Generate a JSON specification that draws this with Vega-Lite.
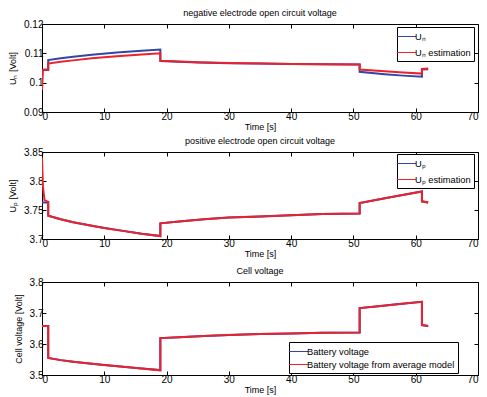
{
  "$schema": "https://vega.github.io/schema/vega-lite/v6.json",
  "padding": {"top": 8, "left": 8, "right": 4, "bottom": 0},
  "background": "white",
  "spacing": 7,
  "config": {
    "font": "Liberation Sans",
    "view": {"stroke": "black", "strokeWidth": 1},
    "axis": {"grid": false, "domain": false, "tickColor": "black", "tickSize": -4, "labelPadding": 3, "labelFontSize": 10, "labelColor": "black", "titleFontSize": 9, "titleFontWeight": "normal", "titleColor": "black", "labelFont": "Liberation Sans", "titleFont": "Liberation Sans"},
    "title": {"fontSize": 9, "fontWeight": "normal", "color": "black", "offset": 1, "font": "Liberation Sans"},
    "legend": {"orient": "none", "strokeColor": "black", "fillColor": "white", "padding": 3, "symbolType": "M-1.6,0H1.6", "symbolSize": 144, "symbolStrokeWidth": 1, "labelFontSize": 9.3, "labelColor": "black", "labelOffset": 2, "title": null, "cornerRadius": 0, "labelFont": "Liberation Sans"}
  },
  "datasets": {
    "n": [
      {"s": "Uₙ", "i": 0, "t": 0, "v": 0.1043},
      {"s": "Uₙ", "i": 1, "t": 1, "v": 0.1043},
      {"s": "Uₙ", "i": 2, "t": 1, "v": 0.1077},
      {"s": "Uₙ", "i": 3, "t": 3, "v": 0.1083},
      {"s": "Uₙ", "i": 4, "t": 5, "v": 0.1088},
      {"s": "Uₙ", "i": 5, "t": 8, "v": 0.1095},
      {"s": "Uₙ", "i": 6, "t": 12, "v": 0.1103},
      {"s": "Uₙ", "i": 7, "t": 16, "v": 0.1109},
      {"s": "Uₙ", "i": 8, "t": 19, "v": 0.1113},
      {"s": "Uₙ", "i": 9, "t": 19, "v": 0.1074},
      {"s": "Uₙ", "i": 10, "t": 25, "v": 0.1069},
      {"s": "Uₙ", "i": 11, "t": 30, "v": 0.1066},
      {"s": "Uₙ", "i": 12, "t": 35, "v": 0.1065},
      {"s": "Uₙ", "i": 13, "t": 40, "v": 0.1064},
      {"s": "Uₙ", "i": 14, "t": 45, "v": 0.1063},
      {"s": "Uₙ", "i": 15, "t": 51, "v": 0.1062},
      {"s": "Uₙ", "i": 16, "t": 51, "v": 0.1037},
      {"s": "Uₙ", "i": 17, "t": 55, "v": 0.1029},
      {"s": "Uₙ", "i": 18, "t": 58, "v": 0.1024},
      {"s": "Uₙ", "i": 19, "t": 61, "v": 0.1020},
      {"s": "Uₙ", "i": 20, "t": 61, "v": 0.1045},
      {"s": "Uₙ", "i": 21, "t": 62, "v": 0.1046},
      {"s": "Uₙ estimation", "i": 0, "t": 0, "v": 0.0975},
      {"s": "Uₙ estimation", "i": 1, "t": 0.15, "v": 0.1040},
      {"s": "Uₙ estimation", "i": 2, "t": 0.35, "v": 0.1045},
      {"s": "Uₙ estimation", "i": 3, "t": 1, "v": 0.1045},
      {"s": "Uₙ estimation", "i": 4, "t": 1, "v": 0.1065},
      {"s": "Uₙ estimation", "i": 5, "t": 3, "v": 0.1071},
      {"s": "Uₙ estimation", "i": 6, "t": 5, "v": 0.1076},
      {"s": "Uₙ estimation", "i": 7, "t": 8, "v": 0.1083},
      {"s": "Uₙ estimation", "i": 8, "t": 12, "v": 0.1090},
      {"s": "Uₙ estimation", "i": 9, "t": 16, "v": 0.1096},
      {"s": "Uₙ estimation", "i": 10, "t": 19, "v": 0.1100},
      {"s": "Uₙ estimation", "i": 11, "t": 19, "v": 0.1075},
      {"s": "Uₙ estimation", "i": 12, "t": 25, "v": 0.1070},
      {"s": "Uₙ estimation", "i": 13, "t": 30, "v": 0.1067},
      {"s": "Uₙ estimation", "i": 14, "t": 35, "v": 0.1065},
      {"s": "Uₙ estimation", "i": 15, "t": 40, "v": 0.1064},
      {"s": "Uₙ estimation", "i": 16, "t": 45, "v": 0.1063},
      {"s": "Uₙ estimation", "i": 17, "t": 51, "v": 0.1062},
      {"s": "Uₙ estimation", "i": 18, "t": 51, "v": 0.1045},
      {"s": "Uₙ estimation", "i": 19, "t": 55, "v": 0.1039},
      {"s": "Uₙ estimation", "i": 20, "t": 58, "v": 0.1035},
      {"s": "Uₙ estimation", "i": 21, "t": 61, "v": 0.1031},
      {"s": "Uₙ estimation", "i": 22, "t": 61, "v": 0.1047},
      {"s": "Uₙ estimation", "i": 23, "t": 62, "v": 0.1048}
    ],
    "p": [
      {"s": "Uₚ", "i": 0, "t": 0, "v": 3.763},
      {"s": "Uₚ", "i": 1, "t": 1, "v": 3.763},
      {"s": "Uₚ", "i": 2, "t": 1, "v": 3.740},
      {"s": "Uₚ", "i": 3, "t": 3, "v": 3.734},
      {"s": "Uₚ", "i": 4, "t": 5, "v": 3.729},
      {"s": "Uₚ", "i": 5, "t": 8, "v": 3.723},
      {"s": "Uₚ", "i": 6, "t": 10, "v": 3.719},
      {"s": "Uₚ", "i": 7, "t": 13, "v": 3.714},
      {"s": "Uₚ", "i": 8, "t": 16, "v": 3.709},
      {"s": "Uₚ", "i": 9, "t": 19, "v": 3.705},
      {"s": "Uₚ", "i": 10, "t": 19, "v": 3.727},
      {"s": "Uₚ", "i": 11, "t": 22, "v": 3.730},
      {"s": "Uₚ", "i": 12, "t": 26, "v": 3.734},
      {"s": "Uₚ", "i": 13, "t": 30, "v": 3.737},
      {"s": "Uₚ", "i": 14, "t": 35, "v": 3.739},
      {"s": "Uₚ", "i": 15, "t": 40, "v": 3.741},
      {"s": "Uₚ", "i": 16, "t": 45, "v": 3.743},
      {"s": "Uₚ", "i": 17, "t": 51, "v": 3.744},
      {"s": "Uₚ", "i": 18, "t": 51, "v": 3.762},
      {"s": "Uₚ", "i": 19, "t": 54, "v": 3.768},
      {"s": "Uₚ", "i": 20, "t": 57, "v": 3.774},
      {"s": "Uₚ", "i": 21, "t": 61, "v": 3.782},
      {"s": "Uₚ", "i": 22, "t": 61, "v": 3.765},
      {"s": "Uₚ", "i": 23, "t": 62, "v": 3.763},
      {"s": "Uₚ estimation", "i": 0, "t": 0, "v": 3.840},
      {"s": "Uₚ estimation", "i": 1, "t": 0.15, "v": 3.790},
      {"s": "Uₚ estimation", "i": 2, "t": 0.4, "v": 3.767},
      {"s": "Uₚ estimation", "i": 3, "t": 1, "v": 3.764},
      {"s": "Uₚ estimation", "i": 4, "t": 1, "v": 3.740},
      {"s": "Uₚ estimation", "i": 5, "t": 3, "v": 3.734},
      {"s": "Uₚ estimation", "i": 6, "t": 5, "v": 3.729},
      {"s": "Uₚ estimation", "i": 7, "t": 8, "v": 3.723},
      {"s": "Uₚ estimation", "i": 8, "t": 10, "v": 3.719},
      {"s": "Uₚ estimation", "i": 9, "t": 13, "v": 3.714},
      {"s": "Uₚ estimation", "i": 10, "t": 16, "v": 3.709},
      {"s": "Uₚ estimation", "i": 11, "t": 19, "v": 3.705},
      {"s": "Uₚ estimation", "i": 12, "t": 19, "v": 3.727},
      {"s": "Uₚ estimation", "i": 13, "t": 22, "v": 3.730},
      {"s": "Uₚ estimation", "i": 14, "t": 26, "v": 3.734},
      {"s": "Uₚ estimation", "i": 15, "t": 30, "v": 3.737},
      {"s": "Uₚ estimation", "i": 16, "t": 35, "v": 3.739},
      {"s": "Uₚ estimation", "i": 17, "t": 40, "v": 3.741},
      {"s": "Uₚ estimation", "i": 18, "t": 45, "v": 3.743},
      {"s": "Uₚ estimation", "i": 19, "t": 51, "v": 3.744},
      {"s": "Uₚ estimation", "i": 20, "t": 51, "v": 3.762},
      {"s": "Uₚ estimation", "i": 21, "t": 54, "v": 3.768},
      {"s": "Uₚ estimation", "i": 22, "t": 57, "v": 3.774},
      {"s": "Uₚ estimation", "i": 23, "t": 61, "v": 3.782},
      {"s": "Uₚ estimation", "i": 24, "t": 61, "v": 3.765},
      {"s": "Uₚ estimation", "i": 25, "t": 62, "v": 3.763}
    ],
    "c": [
      {"s": "Battery voltage", "i": 0, "t": 0, "v": 3.658},
      {"s": "Battery voltage", "i": 1, "t": 1, "v": 3.658},
      {"s": "Battery voltage", "i": 2, "t": 1, "v": 3.555},
      {"s": "Battery voltage", "i": 3, "t": 3, "v": 3.548},
      {"s": "Battery voltage", "i": 4, "t": 5, "v": 3.543},
      {"s": "Battery voltage", "i": 5, "t": 8, "v": 3.536},
      {"s": "Battery voltage", "i": 6, "t": 10, "v": 3.532},
      {"s": "Battery voltage", "i": 7, "t": 13, "v": 3.527},
      {"s": "Battery voltage", "i": 8, "t": 16, "v": 3.521},
      {"s": "Battery voltage", "i": 9, "t": 19, "v": 3.516},
      {"s": "Battery voltage", "i": 10, "t": 19, "v": 3.619},
      {"s": "Battery voltage", "i": 11, "t": 22, "v": 3.622},
      {"s": "Battery voltage", "i": 12, "t": 26, "v": 3.626},
      {"s": "Battery voltage", "i": 13, "t": 30, "v": 3.629},
      {"s": "Battery voltage", "i": 14, "t": 35, "v": 3.632},
      {"s": "Battery voltage", "i": 15, "t": 40, "v": 3.634},
      {"s": "Battery voltage", "i": 16, "t": 45, "v": 3.636},
      {"s": "Battery voltage", "i": 17, "t": 51, "v": 3.637},
      {"s": "Battery voltage", "i": 18, "t": 51, "v": 3.716},
      {"s": "Battery voltage", "i": 19, "t": 54, "v": 3.722},
      {"s": "Battery voltage", "i": 20, "t": 57, "v": 3.728},
      {"s": "Battery voltage", "i": 21, "t": 61, "v": 3.736},
      {"s": "Battery voltage", "i": 22, "t": 61, "v": 3.661},
      {"s": "Battery voltage", "i": 23, "t": 62, "v": 3.658},
      {"s": "Battery voltage from average model", "i": 0, "t": 0, "v": 3.658},
      {"s": "Battery voltage from average model", "i": 1, "t": 1, "v": 3.658},
      {"s": "Battery voltage from average model", "i": 2, "t": 1, "v": 3.555},
      {"s": "Battery voltage from average model", "i": 3, "t": 3, "v": 3.548},
      {"s": "Battery voltage from average model", "i": 4, "t": 5, "v": 3.543},
      {"s": "Battery voltage from average model", "i": 5, "t": 8, "v": 3.536},
      {"s": "Battery voltage from average model", "i": 6, "t": 10, "v": 3.532},
      {"s": "Battery voltage from average model", "i": 7, "t": 13, "v": 3.527},
      {"s": "Battery voltage from average model", "i": 8, "t": 16, "v": 3.521},
      {"s": "Battery voltage from average model", "i": 9, "t": 19, "v": 3.515},
      {"s": "Battery voltage from average model", "i": 10, "t": 19, "v": 3.619},
      {"s": "Battery voltage from average model", "i": 11, "t": 22, "v": 3.622},
      {"s": "Battery voltage from average model", "i": 12, "t": 26, "v": 3.626},
      {"s": "Battery voltage from average model", "i": 13, "t": 30, "v": 3.629},
      {"s": "Battery voltage from average model", "i": 14, "t": 35, "v": 3.632},
      {"s": "Battery voltage from average model", "i": 15, "t": 40, "v": 3.634},
      {"s": "Battery voltage from average model", "i": 16, "t": 45, "v": 3.636},
      {"s": "Battery voltage from average model", "i": 17, "t": 51, "v": 3.637},
      {"s": "Battery voltage from average model", "i": 18, "t": 51, "v": 3.716},
      {"s": "Battery voltage from average model", "i": 19, "t": 54, "v": 3.722},
      {"s": "Battery voltage from average model", "i": 20, "t": 57, "v": 3.728},
      {"s": "Battery voltage from average model", "i": 21, "t": 61, "v": 3.736},
      {"s": "Battery voltage from average model", "i": 22, "t": 61, "v": 3.661},
      {"s": "Battery voltage from average model", "i": 23, "t": 62, "v": 3.658}
    ]
  },
  "vconcat": [
    {
      "spacing": 4,
      "vconcat": [
        {
          "title": "negative electrode open circuit voltage",
          "width": 436,
          "height": 88,
          "data": {"name": "n"},
          "layer": [
            {
              "mark": {"type": "line", "strokeWidth": 2, "clip": true},
              "encoding": {
                "x": {"field": "t", "type": "quantitative", "scale": {"domain": [0, 70]}, "axis": {"title": "Time [s]", "values": [0, 10, 20, 30, 40, 50, 60, 70], "titlePadding": 1}},
                "y": {"field": "v", "type": "quantitative", "scale": {"domain": [0.09, 0.12], "zero": false}, "axis": {"title": "Uₙ [Volt]", "values": [0.09, 0.1, 0.11, 0.12], "format": "~g", "titlePadding": 6}},
                "order": {"field": "i", "type": "quantitative"},
                "color": {"field": "s", "type": "nominal", "scale": {"domain": ["Uₙ", "Uₙ estimation"], "range": ["#3346a3", "#e8222e"]}, "legend": {"legendX": 355, "legendY": 3, "rowPadding": 4, "encode": {"symbols": {"update": {"strokeWidth": {"value": 1}}}}}}
              }
            },
            {
              "mark": {"type": "point", "opacity": 0},
              "encoding": {
                "x": {"field": "t", "type": "quantitative", "scale": {"domain": [0, 70]}, "axis": {"orient": "top", "labels": false, "title": null, "values": [0, 10, 20, 30, 40, 50, 60, 70]}},
                "y": {"field": "v", "type": "quantitative", "scale": {"domain": [0.09, 0.12], "zero": false}, "axis": {"orient": "right", "labels": false, "title": null, "values": [0.09, 0.1, 0.11, 0.12]}}
              }
            }
          ],
          "resolve": {"axis": {"x": "independent", "y": "independent"}}
        },
        {
          "title": "positive electrode open circuit voltage",
          "width": 436,
          "height": 87,
          "data": {"name": "p"},
          "layer": [
            {
              "mark": {"type": "line", "strokeWidth": 2, "clip": true},
              "encoding": {
                "x": {"field": "t", "type": "quantitative", "scale": {"domain": [0, 70]}, "axis": {"title": "Time [s]", "values": [0, 10, 20, 30, 40, 50, 60, 70], "titlePadding": 1}},
                "y": {"field": "v", "type": "quantitative", "scale": {"domain": [3.7, 3.85], "zero": false}, "axis": {"title": "Uₚ [Volt]", "values": [3.7, 3.75, 3.8, 3.85], "format": "~g", "titlePadding": 6}},
                "order": {"field": "i", "type": "quantitative"},
                "color": {"field": "s", "type": "nominal", "scale": {"domain": ["Uₚ", "Uₚ estimation"], "range": ["#3346a3", "#e8222e"]}, "legend": {"legendX": 355, "legendY": 2, "rowPadding": 4, "encode": {"symbols": {"update": {"strokeWidth": {"value": 1}}}}}}
              }
            },
            {
              "mark": {"type": "point", "opacity": 0},
              "encoding": {
                "x": {"field": "t", "type": "quantitative", "scale": {"domain": [0, 70]}, "axis": {"orient": "top", "labels": false, "title": null, "values": [0, 10, 20, 30, 40, 50, 60, 70]}},
                "y": {"field": "v", "type": "quantitative", "scale": {"domain": [3.7, 3.85], "zero": false}, "axis": {"orient": "right", "labels": false, "title": null, "values": [3.7, 3.75, 3.8, 3.85]}}
              }
            }
          ],
          "resolve": {"axis": {"x": "independent", "y": "independent"}}
        }
      ],
      "resolve": {"scale": {"color": "independent"}, "legend": {"color": "independent"}}
    },
    {
      "title": "Cell voltage",
      "width": 436,
      "height": 93,
      "data": {"name": "c"},
      "layer": [
        {
          "mark": {"type": "line", "strokeWidth": 2, "clip": true},
          "encoding": {
            "x": {"field": "t", "type": "quantitative", "scale": {"domain": [0, 70]}, "axis": {"title": "Time [s]", "values": [0, 10, 20, 30, 40, 50, 60, 70], "titlePadding": 1}},
            "y": {"field": "v", "type": "quantitative", "scale": {"domain": [3.5, 3.8], "zero": false}, "axis": {"title": "Cell voltage [Volt]", "values": [3.5, 3.6, 3.7, 3.8], "format": "~g", "titlePadding": 6}},
            "order": {"field": "i", "type": "quantitative"},
            "color": {"field": "s", "type": "nominal", "scale": {"domain": ["Battery voltage", "Battery voltage from average model"], "range": ["#3346a3", "#e8222e"]}, "legend": {"legendX": 247, "legendY": 60, "rowPadding": 1, "padding": 3, "encode": {"symbols": {"update": {"strokeWidth": {"value": 1}}}}}}
          }
        },
        {
          "mark": {"type": "point", "opacity": 0},
          "encoding": {
            "x": {"field": "t", "type": "quantitative", "scale": {"domain": [0, 70]}, "axis": {"orient": "top", "labels": false, "title": null, "values": [0, 10, 20, 30, 40, 50, 60, 70]}},
            "y": {"field": "v", "type": "quantitative", "scale": {"domain": [3.5, 3.8], "zero": false}, "axis": {"orient": "right", "labels": false, "title": null, "values": [3.5, 3.6, 3.7, 3.8]}}
          }
        }
      ],
      "resolve": {"axis": {"x": "independent", "y": "independent"}}
    }
  ],
  "resolve": {"scale": {"color": "independent"}, "legend": {"color": "independent"}}
}
